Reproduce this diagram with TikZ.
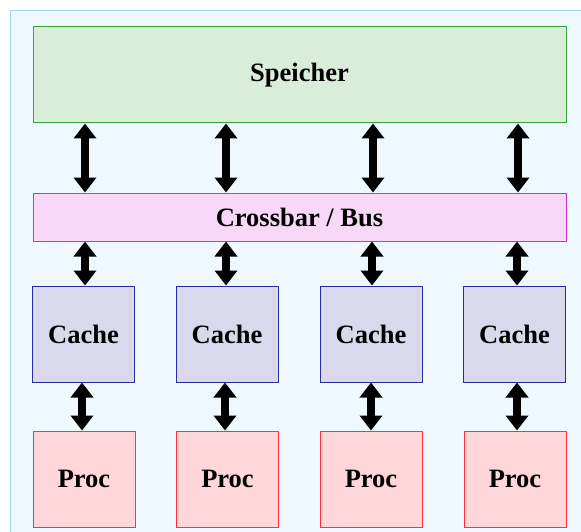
\documentclass[tikz,border=0pt]{standalone}
\usepackage{fontspec}
\setmainfont{Liberation Serif}
\usetikzlibrary{arrows.meta}
\definecolor{panelfill}{HTML}{EEF8FE}
\definecolor{paneldraw}{HTML}{A8D4F4}
\definecolor{memfill}{HTML}{D9EED9}
\definecolor{memdraw}{HTML}{3AA03A}
\definecolor{busfill}{HTML}{F8D8F8}
\definecolor{busdraw}{HTML}{CC33CC}
\definecolor{cachefill}{HTML}{D9D9EE}
\definecolor{cachedraw}{HTML}{2A2AA0}
\definecolor{procfill}{HTML}{FFD6D9}
\definecolor{procdraw}{HTML}{FF3333}
\tikzset{
  box/.style={rectangle, line width=1pt, inner sep=0pt, font=\fontsize{26.5}{30}\selectfont\bfseries},
  membox/.style={box, fill=memfill, draw=memdraw, minimum width=533pt, minimum height=96pt},
  busbox/.style={box, fill=busfill, draw=busdraw, minimum width=533pt, minimum height=48pt},
  cachebox/.style={box, fill=cachefill, draw=cachedraw, minimum width=102pt, minimum height=96pt},
  procbox/.style={box, fill=procfill, draw=procdraw, minimum width=102pt, minimum height=96pt},
  dar/.style={line width=8pt, {Triangle[width=22pt,length=15pt]}-{Triangle[width=22pt,length=15pt]}}
}
\begin{document}
\begin{tikzpicture}[x=1pt,y=-1pt]
\useasboundingbox (0,0) rectangle (581,532);
\fill[panelfill] (10,11) rectangle (581,532);
\draw[paneldraw, line width=1pt] (10,532) -- (10,11) -- (581,11);
\node[membox] (sp) at (299.5,75) {Speicher};
\node[busbox] (cb) at (299.5,217) {Crossbar / Bus};
\node[cachebox] (c1) at (83.5,334) {Cache};
\node[cachebox] (c2) at (227,334) {Cache};
\node[cachebox] (c3) at (371,334) {Cache};
\node[cachebox] (c4) at (514.5,334) {Cache};
\node[procbox] (p1) at (84,479) {Proc};
\node[procbox] (p2) at (227.5,479) {Proc};
\node[procbox] (p3) at (371,479) {Proc};
\node[procbox] (p4) at (515,479) {Proc};
\foreach \x in {85,226,373,518}
  \draw[dar] (sp.south -| \x,0) -- (cb.north -| \x,0);
\foreach \x/\c in {85/c1,226/c2,372/c3,517/c4}
  \draw[dar] (cb.south -| \x,0) -- (\c.north -| \x,0);
\foreach \x/\c/\p in {82/c1/p1,225/c2/p2,371/c3/p3,517/c4/p4}
  \draw[dar] (\c.south -| \x,0) -- (\p.north -| \x,0);
\end{tikzpicture}
\end{document}
